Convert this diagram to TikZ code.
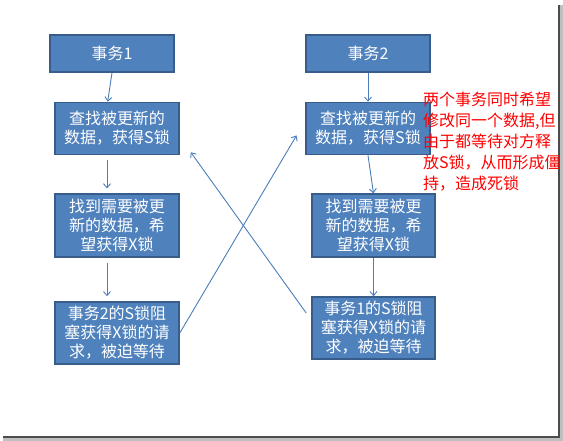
\documentclass[tikz,border=0pt]{standalone}
\usepackage{fontspec}
\setmainfont{Noto Sans CJK SC}
\usetikzlibrary{arrows.meta}
\definecolor{boxblue}{HTML}{4F81BD}
\definecolor{boxedge}{HTML}{385D8A}
\definecolor{linkblue}{HTML}{4A7EBB}
\definecolor{notered}{HTML}{FF0000}

\begin{document}
\begin{tikzpicture}[x=1pt,y=-1pt,
  stepbox/.style={draw=boxedge,fill=boxblue,line width=1.6pt,text=white,align=center,
    inner sep=0pt,minimum width=124pt,font=\fontsize{16}{19}\selectfont},
  link/.style={draw=linkblue,line width=.9pt,-{Straight Barb[length=4pt,width=7pt]}}]
\useasboundingbox (0,0) rectangle (563,441);
\fill[white] (0,0) rectangle (563,441);
\draw[black!25,line width=3.5pt] (561,5) -- (561,439) -- (3,439);
\draw[black!70,line width=1.6pt] (558.8,5) -- (558.8,437) -- (3,437);
\node[stepbox,minimum height=37pt] (t1) at (112,53.5){事务1};
\node[stepbox,minimum height=52pt] (l2) at (117,128.5){查找被更新的\\数据，获得S锁};
\node[stepbox,minimum height=63pt] (l3) at (117,225.7){找到需要被更\\新的数据，希\\望获得X锁};
\node[stepbox,minimum height=62pt] (l4) at (117,333){事务2的S锁阻\\塞获得X锁的请\\求，被迫等待};
\node[stepbox,minimum height=37pt] (t2) at (368,53.5){事务2};
\node[stepbox,minimum height=52pt] (r2) at (368,128.5){查找被更新的\\数据，获得S锁};
\node[stepbox,minimum height=63pt,minimum width=123pt] (r3) at (373.5,225.7){找到需要被更\\新的数据，希\\望获得X锁};
\node[stepbox,minimum height=62pt,minimum width=123pt] (r4) at (373.5,328){事务1的S锁阻\\塞获得X锁的请\\求，被迫等待};
\draw[link] (t1.south) -- ([xshift=-9.3pt]l2.north);
\draw[link] ([shift={(-10pt,-5pt)}]l2.south) -- ([shift={(-10pt,5pt)}]l3.north);
\draw[link] ([shift={(-10pt,-5pt)}]l3.south) -- ([shift={(-10pt,5pt)}]l4.north);
\draw[link] (t2.south) -- (r2.north);
\draw[link] (r2.south) -- (r3.north);
\draw[link] (r3.south) -- (r4.north);
\draw[link] (l4.east) -- ([shift={(-8.7pt,-7pt)}]r2.west);
\draw[link] ([shift={(-5pt,15pt)}]r4.west) -- ([shift={(11pt,3pt)}]l2.south east);
\node[anchor=north west,inner sep=0pt,align=left,text=notered,font=\fontsize{16}{21}\selectfont] (note) at (423,92)
  {两个事务同时希望\\修改同一个数据,但\\由于都等待对方释\\放S锁，从而形成僵\\持，造成死锁};
\end{tikzpicture}
\end{document}
